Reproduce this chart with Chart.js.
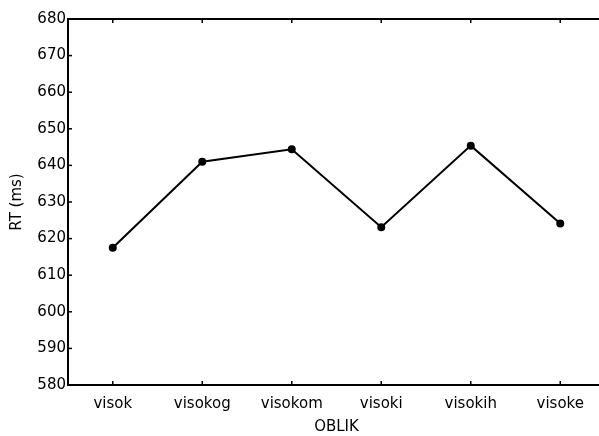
<!DOCTYPE html>
<html>
<head>
<meta charset="utf-8">
<script src="https://cdn.jsdelivr.net/npm/chart.js@4"></script>
<style>
  html, body { margin: 0; padding: 0; background: #fff; overflow: hidden; }
  #wrap { width: 620px; height: 436px; }
</style>
</head>
<body>
<div id="wrap"><canvas id="rtChart" width="620" height="436"></canvas></div>
<script>
// data
const categories = ['visok', 'visokog', 'visokom', 'visoki', 'visokih', 'visoke'];
const rtValues   = [617.5, 641.0, 644.4, 623.1, 645.4, 624.1];
const yMin = 580, yMax = 680, yStep = 10;

const FONT = { family: '"DejaVu Sans", Arial, sans-serif', size: 15 };

// inward tick marks + the top frame line
const frameTicks = {
  id: 'frameTicks',
  afterDraw(chart) {
    const { ctx, chartArea: a, scales: { x, y } } = chart;
    ctx.save();
    ctx.strokeStyle = '#000';
    ctx.lineWidth = 2;
    ctx.beginPath();
    ctx.moveTo(a.left - 1, a.top);
    ctx.lineTo(chart.width, a.top);
    ctx.stroke();
    ctx.lineWidth = 1.5;
    y.ticks.forEach((t, i) => {
      const py = y.getPixelForTick(i);
      ctx.beginPath(); ctx.moveTo(a.left, py); ctx.lineTo(a.left + 4, py); ctx.stroke();
    });
    x.ticks.forEach((t, i) => {
      const px = x.getPixelForTick(i);
      ctx.beginPath(); ctx.moveTo(px, a.bottom); ctx.lineTo(px, a.bottom - 4); ctx.stroke();
      ctx.beginPath(); ctx.moveTo(px, a.top); ctx.lineTo(px, a.top + 4); ctx.stroke();
    });
    ctx.restore();
  }
};

new Chart(document.getElementById('rtChart'), {
  type: 'line',
  data: {
    labels: categories,
    datasets: [{
      data: rtValues,
      borderColor: '#000',
      backgroundColor: '#000',
      borderWidth: 2,
      pointRadius: 3,
      pointHoverRadius: 3,
      tension: 0,
      fill: false
    }]
  },
  options: {
    responsive: false,
    animation: false,
    layout: { padding: { top: 19, right: 15, left: 0, bottom: 0 } },
    plugins: { legend: { display: false }, tooltip: { enabled: false } },
    scales: {
      x: {
        offset: true,
        grid: { display: false, drawTicks: false },
        border: { display: true, color: '#000', width: 2 },
        ticks: { color: '#000', font: FONT, padding: 10, maxRotation: 0 },
        title: { display: true, text: 'OBLIK', color: '#000', font: FONT, padding: { top: 8, bottom: 0 } },
        afterFit(s) { s.height = 51; }
      },
      y: {
        min: yMin, max: yMax,
        grid: { display: false, drawTicks: false },
        border: { display: true, color: '#000', width: 2 },
        ticks: { stepSize: yStep, color: '#000', font: FONT, padding: 2 },
        title: { display: true, text: 'RT (ms)', color: '#000', font: FONT, padding: { top: 8, bottom: 4 } },
        afterFit(s) { s.width = 68; }
      }
    }
  },
  plugins: [frameTicks]
});
</script>
</body>
</html>
